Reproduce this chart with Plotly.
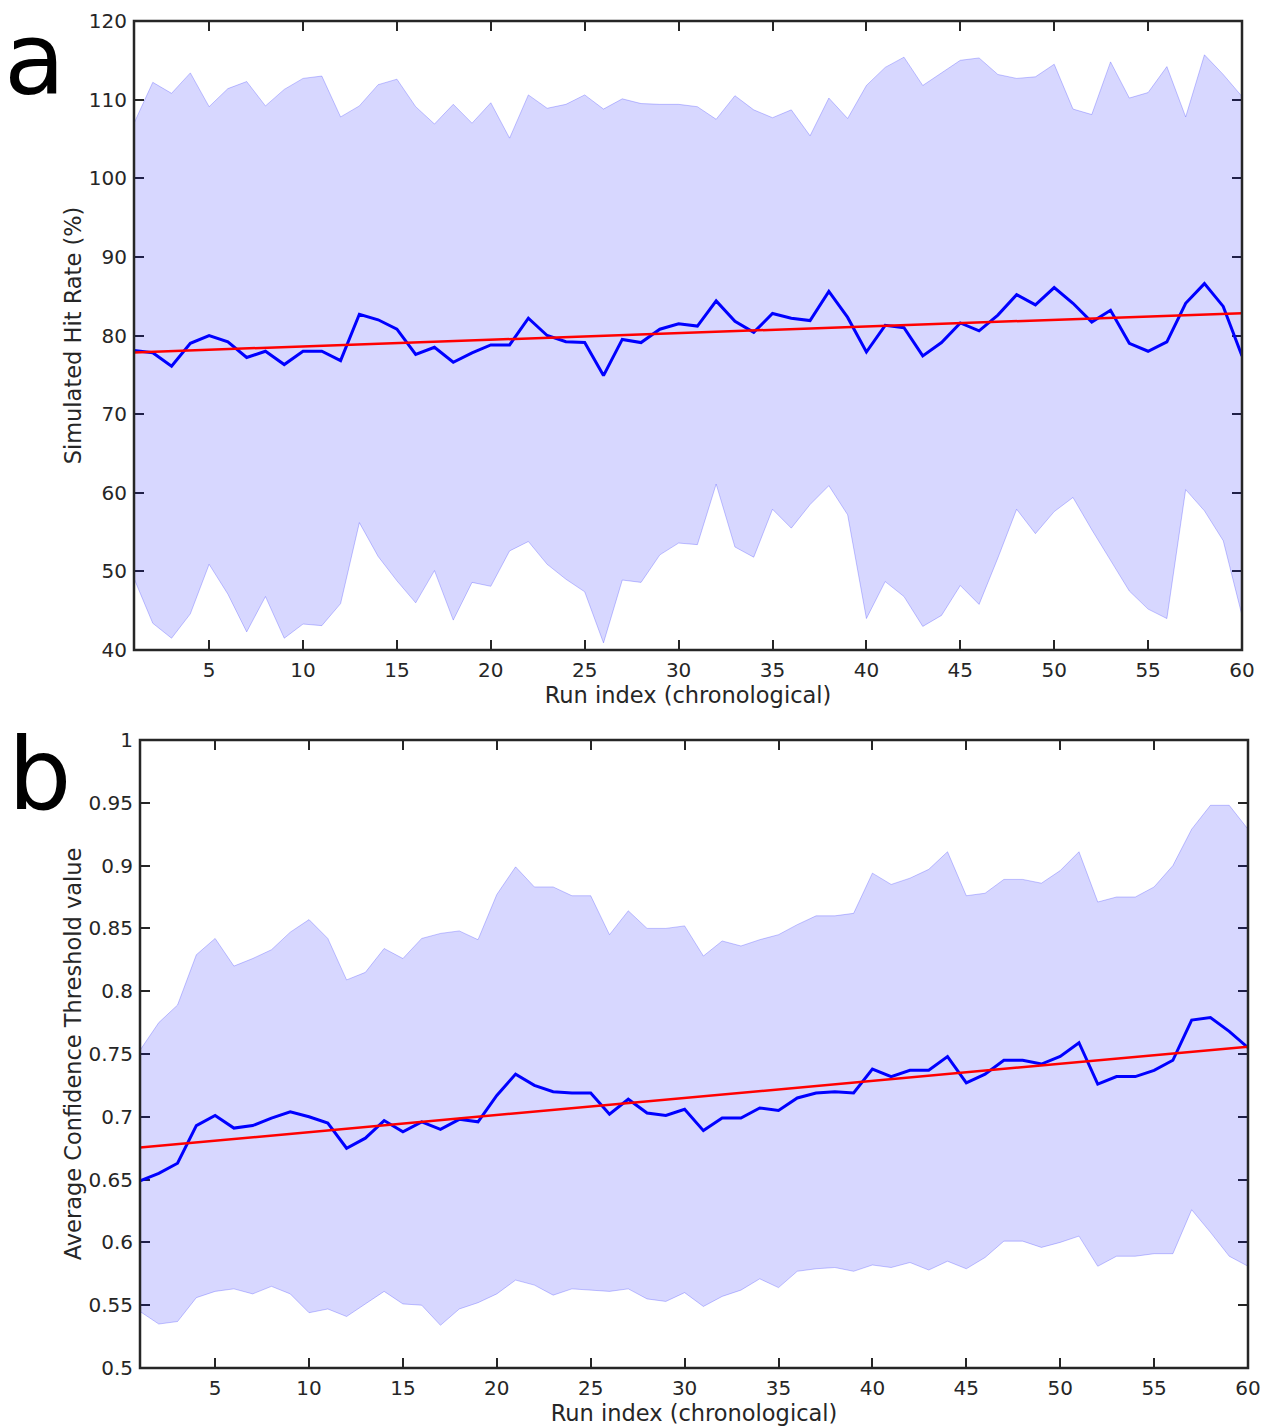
import numpy as np
import plotly.graph_objects as go

runs = list(range(1, 61))

# Panel a: simulated hit rate (%) per run
hit_mean = [78.1, 77.8, 76.1, 79.0, 80.0, 79.2, 77.2, 78.0, 76.3, 78.0,
            78.0, 76.8, 82.7, 82.0, 80.8, 77.6, 78.5, 76.6, 77.8, 78.8,
            78.8, 82.2, 80.0, 79.2, 79.1, 74.9, 79.5, 79.1, 80.8, 81.5,
            81.2, 84.4, 81.8, 80.4, 82.8, 82.2, 81.9, 85.6, 82.3, 77.9,
            81.3, 81.0, 77.4, 79.1, 81.6, 80.6, 82.6, 85.2, 83.9, 86.1,
            84.1, 81.7, 83.2, 79.0, 78.0, 79.2, 84.1, 86.6, 83.7, 77.4]
hit_upper = [107.0, 112.2, 110.8, 113.4, 109.1, 111.4, 112.3, 109.2, 111.3, 112.7,
             113.0, 107.8, 109.2, 111.9, 112.6, 109.1, 106.9, 109.4, 107.0, 109.6,
             105.1, 110.6, 108.9, 109.4, 110.6, 108.8, 110.1, 109.5, 109.4, 109.4,
             109.1, 107.5, 110.5, 108.7, 107.7, 108.7, 105.4, 110.2, 107.6, 111.8,
             114.1, 115.4, 111.8, 113.4, 115.0, 115.3, 113.2, 112.7, 112.9, 114.5,
             108.8, 108.1, 114.8, 110.2, 110.9, 114.2, 107.8, 115.7, 113.2, 110.4]
hit_lower = [49.1, 43.4, 41.5, 44.6, 50.9, 47.1, 42.3, 46.8, 41.5, 43.3,
             43.1, 45.9, 56.2, 51.9, 48.8, 46.0, 50.1, 43.8, 48.6, 48.1,
             52.6, 53.8, 50.9, 49.0, 47.4, 40.9, 48.9, 48.6, 52.1, 53.6,
             53.4, 61.1, 53.1, 51.8, 57.9, 55.5, 58.5, 60.9, 57.2, 44.0,
             48.7, 46.8, 43.0, 44.4, 48.2, 45.8, 51.7, 57.9, 54.8, 57.6,
             59.4, 55.3, 51.4, 47.5, 45.2, 44.0, 60.4, 57.7, 53.9, 44.4]

# Panel b: average confidence threshold per run
thr_mean = [0.649, 0.655, 0.663, 0.693, 0.701, 0.691, 0.693, 0.699, 0.704, 0.700,
            0.695, 0.675, 0.683, 0.697, 0.688, 0.696, 0.690, 0.698, 0.696, 0.717,
            0.734, 0.725, 0.720, 0.719, 0.719, 0.702, 0.714, 0.703, 0.701, 0.706,
            0.689, 0.699, 0.699, 0.707, 0.705, 0.715, 0.719, 0.720, 0.719, 0.738,
            0.732, 0.737, 0.737, 0.748, 0.727, 0.734, 0.745, 0.745, 0.742, 0.748,
            0.759, 0.726, 0.732, 0.732, 0.737, 0.745, 0.777, 0.779, 0.768, 0.755]
thr_upper = [0.753, 0.775, 0.789, 0.829, 0.842, 0.820, 0.826, 0.833, 0.847, 0.857,
             0.842, 0.809, 0.815, 0.834, 0.826, 0.842, 0.846, 0.848, 0.841, 0.877,
             0.899, 0.883, 0.883, 0.876, 0.876, 0.845, 0.864, 0.850, 0.850, 0.852,
             0.828, 0.840, 0.836, 0.841, 0.845, 0.853, 0.860, 0.860, 0.862, 0.894,
             0.885, 0.890, 0.897, 0.911, 0.876, 0.878, 0.889, 0.889, 0.886, 0.896,
             0.911, 0.871, 0.875, 0.875, 0.883, 0.900, 0.929, 0.948, 0.948, 0.929]
thr_lower = [0.545, 0.535, 0.537, 0.556, 0.561, 0.563, 0.559, 0.565, 0.559, 0.544,
             0.547, 0.541, 0.551, 0.561, 0.551, 0.550, 0.534, 0.547, 0.552, 0.559,
             0.570, 0.566, 0.558, 0.563, 0.562, 0.561, 0.563, 0.555, 0.553, 0.560,
             0.549, 0.557, 0.562, 0.571, 0.564, 0.577, 0.579, 0.580, 0.577, 0.582,
             0.580, 0.584, 0.578, 0.585, 0.579, 0.588, 0.601, 0.601, 0.596, 0.600,
             0.605, 0.581, 0.589, 0.589, 0.591, 0.591, 0.626, 0.608, 0.589, 0.581]

x_ticks = [5, 10, 15, 20, 25, 30, 35, 40, 45, 50, 55, 60]
hit_ticks = [40, 50, 60, 70, 80, 90, 100, 110, 120]
thr_ticks = [0.5, 0.55, 0.6, 0.65, 0.7, 0.75, 0.8, 0.85, 0.9, 0.95, 1.0]
thr_ticktext = ["0.5", "0.55", "0.6", "0.65", "0.7", "0.75", "0.8", "0.85", "0.9", "0.95", "1"]

W, H = 1268, 1426
AX = "#262626"
FONT = "DejaVu Sans"


def linear_fit(x, y):
    k, b = np.polyfit(x, y, 1)
    return [k * xi + b for xi in x]


fig = go.Figure()


def add_panel(xa, ya, mean, upper, lower):
    # spread band as one closed polygon
    fig.add_trace(go.Scatter(
        x=runs + runs[::-1], y=upper + lower[::-1],
        xaxis=xa, yaxis=ya, mode="lines", fill="toself",
        fillcolor="rgba(0,0,255,0.155)",
        line=dict(color="rgba(0,0,255,0.22)", width=1),
        hoverinfo="skip", showlegend=False))
    fig.add_trace(go.Scatter(
        x=runs, y=mean, xaxis=xa, yaxis=ya, mode="lines",
        line=dict(color="rgb(0,0,255)", width=3), showlegend=False))
    fig.add_trace(go.Scatter(
        x=runs, y=linear_fit(runs, mean), xaxis=xa, yaxis=ya, mode="lines",
        line=dict(color="rgb(255,0,0)", width=2.5), showlegend=False))


add_panel("x", "y", hit_mean, hit_upper, hit_lower)
add_panel("x2", "y2", thr_mean, thr_upper, thr_lower)

axis_common = dict(
    showgrid=False, zeroline=False, showline=False, automargin=False,
    ticks="inside", ticklen=10, tickwidth=2, tickcolor=AX,
    mirror="ticks", layer="below traces",
    tickfont=dict(family=FONT, size=20, color=AX),
)
title_font = dict(family=FONT, size=22.5, color=AX)

fig.update_layout(
    width=W, height=H, autosize=False,
    margin=dict(l=0, r=0, t=0, b=0, autoexpand=False),
    paper_bgcolor="white", plot_bgcolor="white",
    font=dict(family=FONT, color=AX),
    xaxis=dict(domain=[134 / W, 1242 / W], range=[1, 60], tickvals=x_ticks,
               anchor="y", ticklabelstandoff=6,
               title=dict(text="Run index (chronological)", standoff=6, font=title_font),
               **axis_common),
    yaxis=dict(domain=[1 - 650 / H, 1 - 21 / H], range=[40, 120], tickvals=hit_ticks,
               anchor="x", ticklabelstandoff=6,
               title=dict(text="Simulated Hit Rate (%)", standoff=0, font=title_font),
               **axis_common),
    xaxis2=dict(domain=[140 / W, 1248 / W], range=[1, 60], tickvals=x_ticks,
                anchor="y2", ticklabelstandoff=6,
                title=dict(text="Run index (chronological)", standoff=6, font=title_font),
                **axis_common),
    yaxis2=dict(domain=[1 - 1368 / H, 1 - 740 / H], range=[0.5, 1.0],
                tickvals=thr_ticks, ticktext=thr_ticktext, anchor="x2",
                ticklabelstandoff=6,
                title=dict(text="Average Confidence Threshold value", standoff=0,
                           font=title_font),
                **axis_common),
)

# axes boxes drawn above the data
for xr, yr in (("x", "y"), ("x2", "y2")):
    fig.add_shape(type="rect", xref=f"{xr} domain", yref=f"{yr} domain",
                  x0=0, x1=1, y0=0, y1=1, layer="above",
                  line=dict(color=AX, width=2.5))

# panel letters
fig.add_annotation(text="a", x=3 / W, y=1.0, xref="paper", yref="paper",
                   xanchor="left", yanchor="top", showarrow=False, borderpad=0,
                   font=dict(family=FONT, size=100, color="black"))
fig.add_annotation(text="b", x=6 / W, y=1 - 714 / H, xref="paper", yref="paper",
                   xanchor="left", yanchor="top", showarrow=False,
                   font=dict(family=FONT, size=100, color="black"))

fig.write_html("out.html")
